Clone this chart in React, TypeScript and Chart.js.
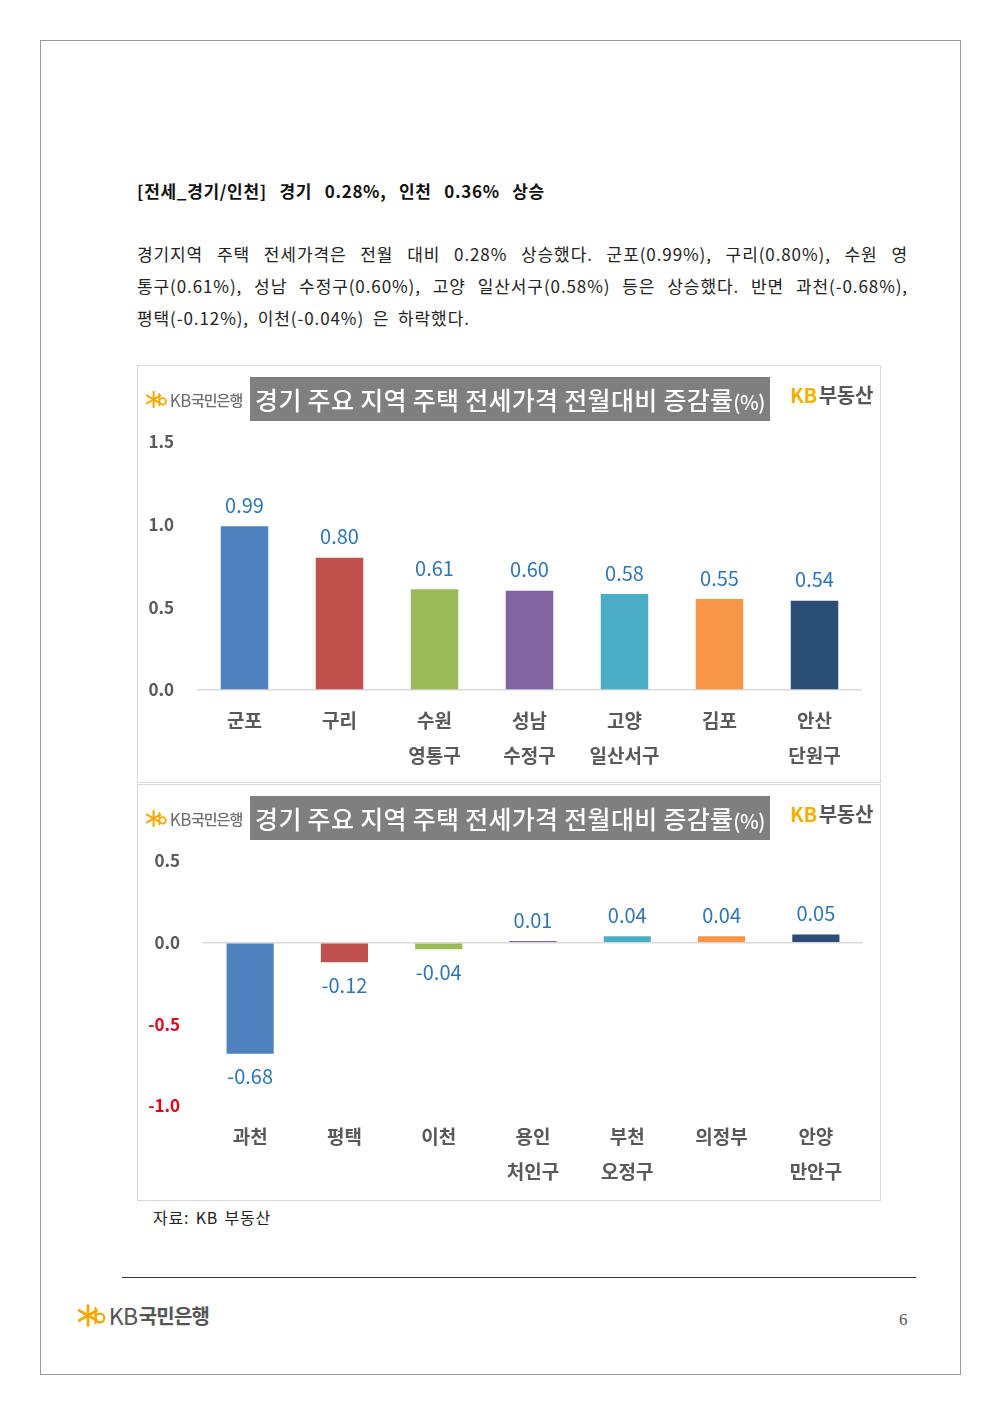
import React, { useEffect, useRef } from "react";
import { Chart, registerables } from "chart.js";
Chart.register(...registerables);

const FONT = '"Noto Sans CJK KR", "Noto Sans", sans-serif';

const categories1: (string | string[])[] = ["군포", "구리", ["수원", "영통구"], ["성남", "수정구"], ["고양", "일산서구"], "김포", ["안산", "단원구"]];
const values1 = [0.99, 0.8, 0.61, 0.6, 0.58, 0.55, 0.54];
const yRange1 = [0, 1.5];

const categories2: (string | string[])[] = ["과천", "평택", "이천", ["용인", "처인구"], ["부천", "오정구"], "의정부", ["안양", "만안구"]];
const values2 = [-0.68, -0.12, -0.04, 0.01, 0.04, 0.04, 0.05];
const yRange2 = [-1.0, 0.5];

const yStep = 0.5;
const barColors = ["#4F81BD", "#C0504D", "#9BBB59", "#8064A2", "#4BACC6", "#F79646", "#2C4D75"];

const chartTitle = "경기 주요 지역 주택 전세가격 전월대비 증감률";

const valueLabelPlugin = {
  id: "valueLabels",
  afterDatasetsDraw(chart: any) {
    const ctx = chart.ctx;
    const meta = chart.getDatasetMeta(0);
    const data = chart.data.datasets[0].data as number[];
    ctx.save();
    ctx.font = `20px ${FONT}`;
    ctx.fillStyle = "#2E75B6";
    ctx.textAlign = "center";
    ctx.textBaseline = "middle";
    meta.data.forEach((el: any, i: number) => {
      const v = data[i];
      const y = v >= 0 ? el.y - 21 : el.y + 23;
      ctx.fillText(v.toFixed(2), el.x, y);
    });
    ctx.restore();
  },
};

type CP = {
  labels: (string | string[])[];
  values: number[];
  range: number[];
  width: number;
  height: number;
  padTop: number;
  padRight: number;
  yWidth: number;
  xHeight: number;
};

function BarChart(p: CP) {
  const ref = useRef<HTMLCanvasElement>(null);
  useEffect(() => {
    const chart = new Chart(ref.current!, {
      type: "bar",
      data: {
        labels: p.labels,
        datasets: [
          {
            data: p.values,
            backgroundColor: barColors,
            barPercentage: 0.5,
            categoryPercentage: 1.0,
          },
        ],
      },
      options: {
        animation: false,
        responsive: false,
        maintainAspectRatio: false,
        layout: { padding: { top: p.padTop, right: p.padRight, left: 0, bottom: 0 } },
        plugins: { legend: { display: false }, tooltip: { enabled: false } },
        scales: {
          x: {
            grid: { display: false, drawTicks: false },
            border: { display: false },
            ticks: {
              padding: 14,
              color: "#595959",
              font: { family: FONT, size: 19, weight: "bold", lineHeight: 1.8 },
            },
            afterFit: (s: any) => {
              s.height = p.xHeight;
            },
          },
          y: {
            min: p.range[0],
            max: p.range[1],
            grid: {
              drawTicks: false,
              color: (c: any) => (c.tick && c.tick.value === 0 ? "#D9D9D9" : "rgba(0,0,0,0)"),
              lineWidth: 1.5,
            },
            border: { display: false },
            ticks: {
              stepSize: yStep,
              padding: 23,
              color: (c: any) => (c.tick && c.tick.value < 0 ? "#E3001B" : "#595959"),
              font: { family: FONT, size: 17, weight: "bold" },
              callback: (v: any) => Number(v).toFixed(1),
            },
            afterFit: (s: any) => {
              s.width = p.yWidth;
            },
          },
        },
      },
      plugins: [valueLabelPlugin],
    });
    return () => chart.destroy();
  }, []);
  return (
    <canvas
      ref={ref}
      width={p.width}
      height={p.height}
      style={{ position: "absolute", left: 0, top: 0, width: p.width, height: p.height }}
    />
  );
}

function KbSymbol({ size }: { size: number }) {
  return (
    <svg width={size * 1.15} height={size} viewBox="0 0 23 20" style={{ display: "inline-block", verticalAlign: "middle" }}>
      <g stroke="#F5A800" strokeWidth="2.2" strokeLinecap="round" fill="none">
        <line x1="8" y1="2" x2="8" y2="18" />
        <line x1="1" y1="6" x2="15" y2="14" />
        <line x1="1" y1="14" x2="15" y2="6" />
        <path d="M14 4 L14 16 M14 12 a3.5 3.5 0 1 0 7 0 a3.5 3.5 0 1 0 -7 0" strokeWidth="1.8" />
      </g>
    </svg>
  );
}

function ChartHeader() {
  return (
    <>
      <div style={{ position: "absolute", left: 8, top: 21, height: 24, display: "flex", alignItems: "center", fontFamily: FONT, color: "#6d6d6d" }}>
        <KbSymbol size={19} />
        <span style={{ fontSize: 17, marginLeft: 2, letterSpacing: -0.5 }}>KB</span>
        <span style={{ fontSize: 15, letterSpacing: -1, fontWeight: 500 }}>국민은행</span>
      </div>
      <div
        style={{
          position: "absolute",
          left: 112,
          top: 11,
          width: 520,
          height: 44,
          background: "#7F7F7F",
          color: "#fff",
          fontFamily: FONT,
          fontWeight: 500,
          fontSize: 25,
          lineHeight: "44px",
          textAlign: "center",
          letterSpacing: 0.3,
          whiteSpace: "nowrap",
        }}
      >
        {chartTitle}
        <span style={{ fontSize: 20, letterSpacing: -0.5 }}>(%)</span>
      </div>
      <div style={{ position: "absolute", left: 652, top: 14, fontFamily: FONT, fontSize: 20, fontWeight: "bold", whiteSpace: "nowrap", letterSpacing: -0.3 }}>
        <span style={{ color: "#F5B000" }}>KB</span>
        <span style={{ color: "#555", marginLeft: 2 }}>부동산</span>
      </div>
    </>
  );
}

const boxStyle = (top: number, height: number): React.CSSProperties => ({
  position: "absolute",
  left: 137,
  top,
  width: 742,
  height,
  border: "1px solid #D9D9D9",
  background: "#fff",
});

const para = [
  "경기지역 주택 전세가격은 전월 대비 0.28% 상승했다. 군포(0.99%), 구리(0.80%), 수원 영",
  "통구(0.61%), 성남 수정구(0.60%), 고양 일산서구(0.58%) 등은 상승했다. 반면 과천(-0.68%),",
  "평택(-0.12%), 이천(-0.04%) 은 하락했다.",
];

export default function App() {
  return (
    <div style={{ position: "absolute", left: 0, top: 0, width: 1000, height: 1414, background: "#fff", fontFamily: FONT, color: "#222" }}>
      <div style={{ position: "absolute", left: 40, top: 40, width: 919, height: 1333, border: "1px solid #9a9a9a" }} />
      <div style={{ position: "absolute", left: 137, top: 178, fontSize: 17, fontWeight: "bold", color: "#111", whiteSpace: "nowrap", letterSpacing: 0.7, wordSpacing: 8 }}>
        [전세_경기/인천] 경기 0.28%, 인천 0.36% 상승
      </div>
      {para.map((t, i) => (
        <div
          key={i}
          style={{
            position: "absolute",
            left: 137,
            top: 241 + i * 32,
            width: 771,
            fontSize: 17,
            lineHeight: "26px",
            color: "#222",
            whiteSpace: "nowrap",
            textAlign: i < 2 ? "justify" : "left",
            textAlignLast: i < 2 ? "justify" : "left",
            letterSpacing: 0.9,
            wordSpacing: 4,
          } as React.CSSProperties}
        >
          {t}
        </div>
      ))}
      <div style={boxStyle(365, 416)}>
        <BarChart labels={categories1} values={values1} range={yRange1} width={742} height={416} padTop={76} padRight={18} yWidth={59} xHeight={92} />
        <ChartHeader />
      </div>
      <div style={boxStyle(784, 415)}>
        <BarChart labels={categories2} values={values2} range={yRange2} width={742} height={415} padTop={76} padRight={17} yWidth={65} xHeight={94} />
        <ChartHeader />
      </div>
      <div style={{ position: "absolute", left: 153, top: 1205, fontSize: 16, color: "#222", whiteSpace: "nowrap", letterSpacing: 0.8, wordSpacing: 2 }}>자료: KB 부동산</div>
      <div style={{ position: "absolute", left: 122, top: 1277, width: 794, height: 0, borderTop: "1.5px solid #333" }} />
      <div style={{ position: "absolute", left: 78, top: 1302, height: 26, display: "flex", alignItems: "center", color: "#555" }}>
        <KbSymbol size={25} />
        <span style={{ fontSize: 23, marginLeft: 2, letterSpacing: -0.5 }}>KB</span>
        <span style={{ fontSize: 20, fontWeight: "bold", letterSpacing: -0.8, marginLeft: 1 }}>국민은행</span>
      </div>
      <div style={{ position: "absolute", left: 899, top: 1310, fontFamily: "'Liberation Serif', serif", fontSize: 17, color: "#555" }}>6</div>
    </div>
  );
}
